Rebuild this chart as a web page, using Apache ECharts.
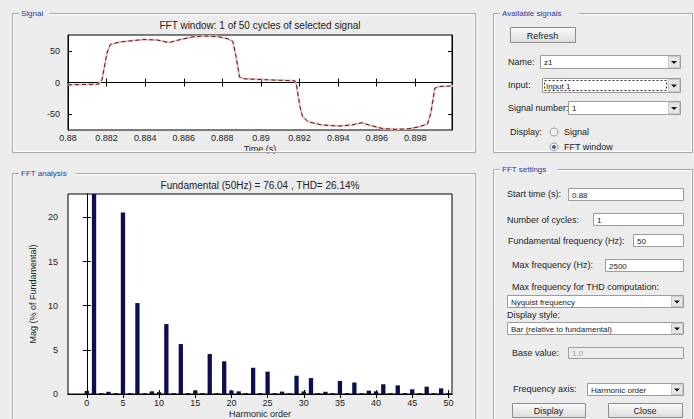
<!DOCTYPE html>
<html>
<head>
<meta charset="UTF-8">
<title>FFT analysis</title>
<script src="https://cdn.jsdelivr.net/npm/echarts/dist/echarts.min.js"></script>
<style>
  html, body { margin: 0; padding: 0; background: #ececec; }
</style>
</head>
<body>
<div id="main" style="width: 694px;height:419px;"></div>
<script type="text/javascript">
    // signal window (time in s, value)
    var sigTime = [0.88, 0.88158, 0.88176, 0.88202, 0.88219, 0.88271, 0.88393, 0.88463, 0.88523, 0.88584,
        0.88645, 0.88706, 0.88776, 0.88828, 0.88854, 0.88871, 0.88889, 0.88915, 0.89037, 0.89176,
        0.89184, 0.89202, 0.89216, 0.89245, 0.89315, 0.89402, 0.89471, 0.89523, 0.89558, 0.89628,
        0.89697, 0.89767, 0.89819, 0.89863, 0.8988, 0.89901, 0.89923, 0.9];
    var sigValue = [-3.7, -2.6, 4, 46.6, 60, 64, 68, 67, 63, 68,
        72, 73.5, 72.5, 69, 65, 41, 8.5, 5.8, 4.2, 2.6,
        -3.7, -38, -54, -62, -67, -68.8, -67, -63.5, -67, -72.5,
        -74, -73, -70, -65.6, -48.7, -9, -6.3, -5.3];

    // harmonic spectrum (% of fundamental)
    var harmOrder = [0, 1, 2, 3, 4, 5, 6, 7, 8, 9, 10, 11, 12, 13, 14, 15, 16, 17, 18, 19, 20, 21, 22, 23, 24, 25,
        26, 27, 28, 29, 30, 31, 32, 33, 34, 35, 36, 37, 38, 39, 40, 41, 42, 43, 44, 45, 46, 47, 48, 49, 50];
    var harmMag = [0.35, 100, 0.1, 0.25, 0.1, 20.57, 0.1, 10.3, 0.1, 0.3, 0.2, 7.92, 0.1, 5.66, 0.1, 0.4, 0.1, 4.53, 0.1, 3.7,
        0.4, 0.3, 0.1, 2.97, 0.1, 2.53, 0.1, 0.27, 0.1, 2.07, 0.3, 1.8, 0.1, 0.25, 0.1, 1.47, 0.1, 1.3, 0.1, 0.38,
        0.3, 1.1, 0.1, 0.98, 0.1, 0.53, 0.1, 0.83, 0.1, 0.64, 0.1];

    var timeTicks = [0.88, 0.882, 0.884, 0.886, 0.888, 0.89, 0.892, 0.894, 0.896, 0.898];
    var sigTicks = [-50, 0, 50];
    var harmTicks = [0, 5, 10, 15, 20, 25, 30, 35, 40, 45, 50];
    var magTicks = [0, 5, 10, 15, 20];

    var FONT = '"Liberation Sans", Arial, sans-serif';

    var sigData = sigTime.map(function (t, i) { return [t, sigValue[i]]; });
    var barData = harmOrder.map(function (h, i) { return [h, harmMag[i]]; });

    // ---- small helpers for the GUI look ----
    function txt(x, y, s, opt) {
        return {
            type: 'text', x: x, y: y, z: 20,
            style: Object.assign({
                text: s, fill: '#222', font: '9px ' + FONT,
                textVerticalAlign: 'middle', verticalAlign: 'middle'
            }, opt || {})
        };
    }
    function frame(x, y, w, h, label) {
        var lw = label.length * 4.4 + 4;
        return [
            {type: 'rect', z: 1, shape: {x: x + 0.5, y: y + 0.5, width: w, height: h},
                style: {fill: 'none', stroke: '#a8a8a8', lineWidth: 1}},
            {type: 'rect', z: 1, shape: {x: x + 1.5, y: y + 1.5, width: w - 2, height: h - 2},
                style: {fill: 'none', stroke: '#ffffff', lineWidth: 1}},
            {type: 'rect', z: 2, shape: {x: x + 7, y: y - 4, width: lw, height: 9},
                style: {fill: '#ececec'}},
            txt(x + 9, y + 0.5, label, {fill: '#2b3aa0', font: '8px ' + FONT})
        ];
    }
    function edit(x, y, w, h, s, disabled) {
        return [
            {type: 'rect', z: 3, shape: {x: x + 0.5, y: y + 0.5, width: w, height: h},
                style: {fill: disabled ? '#ececec' : '#ffffff', stroke: '#9c9c9c', lineWidth: 1}},
            txt(x + 4, y + h / 2 + 1, s, {fill: disabled ? '#a0a0a0' : '#222', font: '8px ' + FONT})
        ];
    }
    function combo(x, y, w, h, s, dashed) {
        var els = edit(x, y, w, h, s, false);
        if (dashed) {
            els.push({type: 'rect', z: 4, shape: {x: x + 2.5, y: y + 2.5, width: w - 16, height: h - 4},
                style: {fill: 'none', stroke: '#333', lineWidth: 1, lineDash: [2, 2]}});
        }
        els.push({type: 'rect', z: 4, shape: {x: x + w - 11.5, y: y + 1.5, width: 11, height: h - 2},
            style: {fill: '#e6e6e6', stroke: '#c8c8c8', lineWidth: 1}});
        var cx = x + w - 6, cy = y + h / 2 + 1;
        els.push({type: 'polygon', z: 5, shape: {points: [[cx - 3, cy - 1.5], [cx + 3, cy - 1.5], [cx, cy + 1.5]]},
            style: {fill: '#111'}});
        return els;
    }
    function button(x, y, w, h, s) {
        return [
            {type: 'rect', z: 3, shape: {x: x + 0.5, y: y + 0.5, width: w, height: h},
                style: {
                    stroke: '#8c8c8c', lineWidth: 1,
                    fill: new echarts.graphic.LinearGradient(0, 0, 0, 1, [
                        {offset: 0, color: '#fbfbfb'}, {offset: 1, color: '#dcdcdc'}])
                }},
            txt(x + w / 2, y + h / 2 + 1, s, {textAlign: 'center', align: 'center', font: '9px ' + FONT})
        ];
    }
    function radio(x, y, checked, s) {
        var els = [{type: 'circle', z: 3, shape: {cx: x, cy: y, r: 4},
            style: {fill: '#f4f4f4', stroke: '#9a9a9a', lineWidth: 1}}];
        if (checked) {
            els.push({type: 'circle', z: 4, shape: {cx: x, cy: y, r: 2}, style: {fill: '#3f5f9f'}});
        }
        els.push(txt(x + 10, y, s));
        return els;
    }

    var gui = [].concat(
        frame(12, 13, 463, 139, 'Signal'),
        frame(12, 173, 463, 260, 'FFT analysis'),
        frame(493, 13, 199, 139, 'Available signals'),
        frame(493, 169, 199, 260, 'FFT settings'),

        button(510, 27, 65, 15, 'Refresh'),
        [txt(508, 62, 'Name:')], combo(540, 55, 140, 13, 'z1'),
        [txt(508, 85, 'Input:')], combo(542, 78, 138, 14, 'Input 1', true),
        [txt(508, 108, 'Signal number:')], combo(568, 101, 112, 13, '1'),
        [txt(510, 132, 'Display:')],
        radio(554, 132, false, 'Signal'),
        radio(554, 147, true, 'FFT window'),

        [txt(507, 194, 'Start time (s):')], edit(568, 188, 115, 12, '0.88'),
        [txt(507, 220, 'Number of cycles:')], edit(593, 213, 90, 12, '1'),
        [txt(508, 241, 'Fundamental frequency (Hz):')], edit(633, 234, 50, 12, '50'),
        [txt(512, 265, 'Max frequency (Hz):')], edit(605, 259, 78, 12, '2500'),
        [txt(512, 287, 'Max frequency for THD computation:')],
        combo(507, 295, 176, 12, 'Nyquist frequency'),
        [txt(507, 315, 'Display style:')],
        combo(507, 322, 176, 12, 'Bar (relative to fundamental)'),
        [txt(512, 353, 'Base value:')], edit(568, 347, 115, 11, '1.0', true),
        [txt(513, 389, 'Frequency axis:')], combo(587, 383, 96, 12, 'Harmonic order'),
        button(512, 403, 73, 14, 'Display'),
        button(608, 403, 74, 14, 'Close'),

        [txt(260, 25, 'FFT window: 1 of 50 cycles of selected signal',
            {textAlign: 'center', align: 'center', font: '10px ' + FONT})],
        [txt(260, 185, 'Fundamental (50Hz) = 76.04 , THD= 26.14%',
            {textAlign: 'center', align: 'center', font: '10px ' + FONT})]
    );

    var axisBase = {
        axisLine: {show: true, lineStyle: {color: '#000', width: 1}},
        axisTick: {show: true, inside: true, length: 4, lineStyle: {color: '#000'}},
        splitLine: {show: false},
        axisLabel: {color: '#222', fontSize: 9, fontFamily: FONT}
    };
    function ax(extra) {
        return echarts.util.merge(echarts.util.clone(axisBase), extra, true);
    }

    var chart = echarts.init(document.getElementById('main'), null, {renderer: 'svg'});
    chart.setOption({
        backgroundColor: '#ececec',
        animation: false,
        grid: [
            {left: 68, top: 35, width: 384, height: 95, show: true, backgroundColor: '#fff',
                borderColor: '#000', borderWidth: 1},
            {left: 68, top: 194, width: 384, height: 200, show: true, backgroundColor: '#fff',
                borderColor: '#000', borderWidth: 1}
        ],
        xAxis: [
            ax({gridIndex: 0, type: 'value', min: 0.88, max: 0.8999, interval: 0.002, position: 'bottom',
                axisLabel: {margin: 3, customValues: timeTicks, formatter: function (v) { return +v.toFixed(3) + ''; }},
                axisTick: {customValues: timeTicks},
                name: 'Time (s)', nameLocation: 'middle', nameGap: 14,
                nameTextStyle: {color: '#222', fontSize: 9, fontFamily: FONT}}),
            ax({gridIndex: 0, type: 'value', min: 0.88, max: 0.8999, position: 'top',
                axisLabel: {show: false}, axisTick: {customValues: timeTicks}}),
            ax({gridIndex: 1, type: 'value', min: -2.6, max: 50.5, position: 'bottom',
                axisLabel: {margin: 4, customValues: harmTicks}, axisTick: {customValues: harmTicks},
                name: 'Harmonic order', nameLocation: 'middle', nameGap: 15,
                nameTextStyle: {color: '#222', fontSize: 9, fontFamily: FONT}}),
            ax({gridIndex: 1, type: 'value', min: -2.6, max: 50.5, position: 'top',
                axisLabel: {show: false}, axisTick: {customValues: harmTicks}})
        ],
        yAxis: [
            ax({gridIndex: 0, type: 'value', min: -75, max: 75, position: 'left',
                axisLabel: {margin: 8, customValues: sigTicks}, axisTick: {customValues: sigTicks}}),
            ax({gridIndex: 0, type: 'value', min: -75, max: 75, position: 'right',
                axisLabel: {show: false}, axisTick: {customValues: sigTicks}}),
            ax({gridIndex: 1, type: 'value', min: 0, max: 22.66, position: 'left',
                axisLabel: {margin: 10, customValues: magTicks}, axisTick: {customValues: magTicks},
                name: 'Mag (% of Fundamental)', nameLocation: 'middle', nameGap: 19, nameRotate: 90,
                nameTextStyle: {color: '#222', fontSize: 9, fontFamily: FONT}}),
            ax({gridIndex: 1, type: 'value', min: 0, max: 22.66, position: 'right',
                axisLabel: {show: false}, axisTick: {customValues: magTicks}})
        ],
        series: [
            {
                type: 'line', xAxisIndex: 0, yAxisIndex: 0, data: sigData,
                symbol: 'none', smooth: false,
                lineStyle: {color: '#f0b8b8', width: 2}
            },
            {
                type: 'line', xAxisIndex: 0, yAxisIndex: 0, data: sigData,
                symbol: 'none', smooth: false,
                lineStyle: {color: '#4a2020', width: 1, type: [4, 3]}
            },
            {
                type: 'bar', xAxisIndex: 2, yAxisIndex: 2, data: barData,
                barWidth: 4.3, clip: true,
                itemStyle: {color: '#0d0d52'}
            }
        ],
        graphic: {elements: gui}
    });
</script>
</body>
</html>
